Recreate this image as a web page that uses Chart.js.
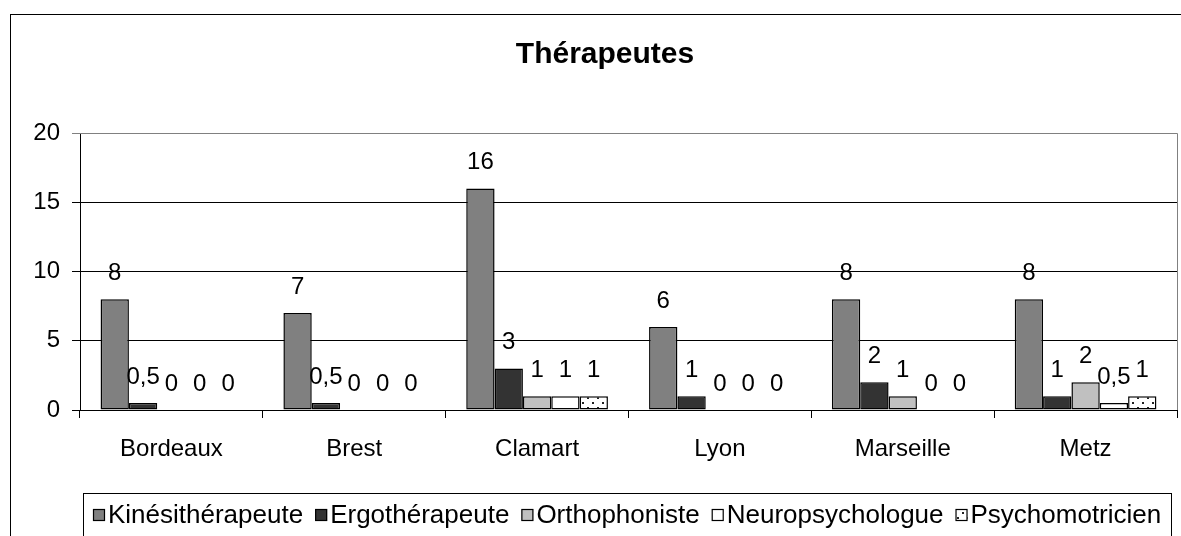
<!DOCTYPE html>
<html><head><meta charset="utf-8">
<script src="https://cdn.jsdelivr.net/npm/chart.js@4.4.1/dist/chart.umd.min.js"></script>
<style>html,body{margin:0;padding:0;background:#fff;overflow:hidden}</style>
</head><body>
<canvas id="c" width="1181" height="536"></canvas>
<script>
const categories = ['Bordeaux', 'Brest', 'Clamart', 'Lyon', 'Marseille', 'Metz'];
const seriesNames = ['Kinésithérapeute', 'Ergothérapeute', 'Orthophoniste', 'Neuropsychologue', 'Psychomotricien'];
const kine = [8, 7, 16, 6, 8, 8];
const ergo = [0.5, 0.5, 3, 1, 2, 1];
const ortho = [0, 0, 1, 0, 1, 2];
const neuro = [0, 0, 1, 0, 0, 0.5];
const psycho = [0, 0, 1, 0, 0, 1];
const yTicks = [0, 5, 10, 15, 20];
const titleText = 'Thérapeutes';

const FONT = '"Liberation Sans", Arial, sans-serif';

function dotPattern() {
  const c = document.createElement('canvas');
  c.width = 10; c.height = 10;
  const g = c.getContext('2d');
  g.fillStyle = '#fff'; g.fillRect(0, 0, 10, 10);
  g.fillStyle = '#222';
  g.fillRect(2, 2, 2, 2);
  g.fillRect(7, 7, 2, 2);
  return g.createPattern(c, 'repeat');
}
const pat = dotPattern();
const fills = ['#808080', '#333333', '#c0c0c0', '#ffffff', pat];
const values = [kine, ergo, ortho, neuro, psycho];

const datasets = values.map((v, i) => ({
  label: seriesNames[i],
  data: v,
  backgroundColor: fills[i],
  borderColor: '#000',
  borderWidth: ctx => (ctx.raw === 0 ? 0 : 1.5),
  borderSkipped: false,
  barPercentage: 1,
  categoryPercentage: 0.775
}));

const deco = {
  id: 'deco',
  beforeDraw(chart) {
    const g = chart.ctx;
    g.save();
    g.fillStyle = '#fff';
    g.fillRect(0, 0, chart.width, chart.height);
    g.strokeStyle = '#000'; g.lineWidth = 1;
    g.strokeRect(10.5, 14.5, chart.width + 20, chart.height + 20);
    g.restore();
  },
  afterDraw(chart) {
    const g = chart.ctx;
    const a = chart.chartArea;
    g.save();
    g.strokeStyle = '#808080'; g.lineWidth = 1;
    g.beginPath();
    g.moveTo(a.left, Math.round(a.top) + 0.5);
    g.lineTo(Math.round(a.right) + 0.5, Math.round(a.top) + 0.5);
    g.lineTo(Math.round(a.right) + 0.5, Math.round(a.bottom));
    g.stroke();
    g.fillStyle = '#000';
    g.font = 'bold 30px ' + FONT;
    g.textAlign = 'center'; g.textBaseline = 'middle';
    g.fillText(titleText, 605, 55);
    const lx0 = 83, ly0 = 493, lx1 = 1171;
    g.strokeStyle = '#000';
    g.strokeRect(lx0 + 0.5, ly0 + 0.5, lx1 - lx0, 100);
    g.font = '26px ' + FONT;
    const box = 12, gap = 3, sp = 12;
    const widths = seriesNames.map(s => g.measureText(s).width);
    let total = 0;
    widths.forEach((w, i) => { total += box + gap + w + (i < widths.length - 1 ? sp : 0); });
    let x = Math.round((lx0 + lx1) / 2 - total / 2);
    const cy = 515;
    g.textAlign = 'left'; g.textBaseline = 'middle';
    seriesNames.forEach((s, i) => {
      g.fillStyle = fills[i];
      g.fillRect(x, cy - 6, box, box);
      g.strokeStyle = '#000'; g.lineWidth = 1.2;
      g.strokeRect(x + 0.5, cy - 5.5, box - 1, box - 1);
      g.fillStyle = '#000';
      g.fillText(s, x + box + gap, cy + 1);
      x += box + gap + widths[i] + sp;
    });
    g.restore();
  },
  afterDatasetsDraw(chart) {
    const g = chart.ctx;
    g.save();
    g.fillStyle = '#000';
    g.font = '24px ' + FONT;
    g.textAlign = 'center'; g.textBaseline = 'alphabetic';
    chart.data.datasets.forEach((ds, di) => {
      const meta = chart.getDatasetMeta(di);
      meta.data.forEach((el, j) => {
        const v = ds.data[j];
        g.fillText(String(v).replace('.', ','), el.x, el.y - 19);
      });
    });
    g.restore();
  }
};

new Chart(document.getElementById('c'), {
  type: 'bar',
  data: { labels: categories, datasets },
  options: {
    responsive: false,
    animation: false,
    devicePixelRatio: 1,
    layout: { padding: { left: 10, top: 133, right: 4, bottom: 66 } },
    plugins: { legend: { display: false }, title: { display: false }, tooltip: { enabled: false } },
    scales: {
      x: {
        afterFit: s => { s.height = 60; },
        grid: { display: true, drawOnChartArea: false, drawTicks: true, tickLength: 8, color: '#000', offset: true },
        border: { display: true, color: '#000', width: 1 },
        ticks: { color: '#000', font: { family: FONT, size: 24 }, padding: 17, maxRotation: 0 }
      },
      y: {
        min: 0, max: 20,
        afterFit: s => { s.width = 70; },
        afterBuildTicks: s => { s.ticks = yTicks.map(v => ({ value: v })); },
        grid: { color: c => (c.tick && c.tick.value === 20 ? '#808080' : '#000'), tickLength: 8, drawTicks: true },
        border: { display: true, color: '#000', width: 1 },
        ticks: { color: '#000', font: { family: FONT, size: 24 }, padding: 12 }
      }
    }
  },
  plugins: [deco]
});
</script>
</body></html>
